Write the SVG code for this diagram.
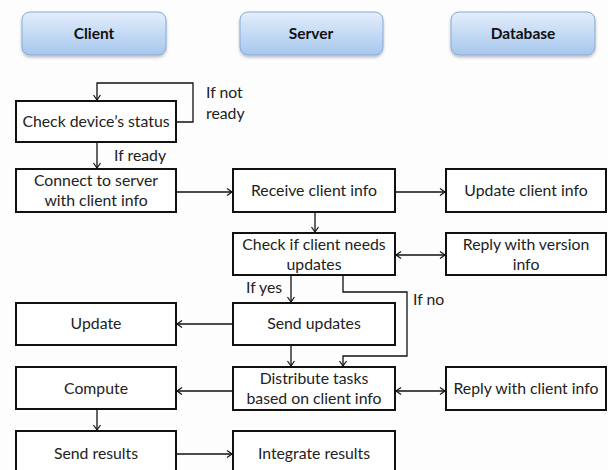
<svg xmlns="http://www.w3.org/2000/svg" width="608" height="470" viewBox="0 0 608 470">
<defs>
<linearGradient id="hg" x1="0" y1="0" x2="0" y2="1">
<stop offset="0" stop-color="#e3eefb"/>
<stop offset="1" stop-color="#a7c7ee"/>
</linearGradient>
<marker id="ah" markerWidth="8" markerHeight="8" refX="6" refY="4" orient="auto-start-reverse" markerUnits="userSpaceOnUse">
<path d="M1,0.5 L6,4 L1,7.5" fill="none" stroke="#111" stroke-width="1.2"/>
</marker>
<filter id="sh" x="-10%" y="-10%" width="130%" height="140%">
<feDropShadow dx="0" dy="2" stdDeviation="1.5" flood-color="#000" flood-opacity="0.25"/>
</filter>
</defs>
<style>
.hdr{fill:url(#hg);stroke:#86a9d6;stroke-width:1}
.ht{font-family:Lato,"Liberation Sans",sans-serif;font-weight:bold;font-size:15.5px;fill:#111;text-anchor:middle}
.box{fill:#fff;stroke:#111;stroke-width:2}
.t{font-family:Lato,"Liberation Sans",sans-serif;font-size:15.8px;fill:#222;text-anchor:middle}
.lbl{font-family:Lato,"Liberation Sans",sans-serif;font-size:15.8px;fill:#222}
.c{fill:none;stroke:#111;stroke-width:1.3}
</style>
<rect width="608" height="470" fill="#fdfdfd"/>

<g id="hdr-client"><rect class="hdr" x="22" y="12" width="144" height="43" rx="8" filter="url(#sh)"/><text class="ht" x="94" y="39">Client</text></g>
<g id="hdr-server"><rect class="hdr" x="240" y="12" width="143" height="43" rx="8" filter="url(#sh)"/><text class="ht" x="311" y="39">Server</text></g>
<g id="hdr-database"><rect class="hdr" x="451" y="12" width="144" height="43" rx="8" filter="url(#sh)"/><text class="ht" x="523" y="39">Database</text></g>

<g id="n-check-device"><rect class="box" x="16" y="101" width="160" height="41"/><text class="t" x="96" y="127">Check device’s status</text></g>
<g id="n-connect"><rect class="box" x="16" y="169" width="160" height="43"/><text class="t" x="96" y="186">Connect to server</text><text class="t" x="96" y="206">with client info</text></g>
<g id="n-receive"><rect class="box" x="233" y="169" width="162" height="43"/><text class="t" x="314" y="196">Receive client info</text></g>
<g id="n-update-client"><rect class="box" x="446" y="169" width="160" height="43"/><text class="t" x="526" y="196">Update client info</text></g>
<g id="n-check-updates"><rect class="box" x="233" y="233" width="162" height="42"/><text class="t" x="314" y="250">Check if client needs</text><text class="t" x="314" y="270">updates</text></g>
<g id="n-reply-version"><rect class="box" x="446" y="233" width="160" height="42"/><text class="t" x="526" y="250">Reply with version</text><text class="t" x="526" y="270">info</text></g>
<g id="n-update"><rect class="box" x="16" y="303" width="160" height="42"/><text class="t" x="96" y="329">Update</text></g>
<g id="n-send-updates"><rect class="box" x="233" y="303" width="162" height="42"/><text class="t" x="314" y="329">Send updates</text></g>
<g id="n-compute"><rect class="box" x="16" y="367" width="160" height="42"/><text class="t" x="96" y="394">Compute</text></g>
<g id="n-distribute"><rect class="box" x="233" y="367" width="162" height="43"/><text class="t" x="314" y="384">Distribute tasks</text><text class="t" x="314" y="404">based on client info</text></g>
<g id="n-reply-client"><rect class="box" x="446" y="367" width="160" height="43"/><text class="t" x="526" y="394">Reply with client info</text></g>
<g id="n-send-results"><rect class="box" x="16" y="431" width="160" height="50"/><text class="t" x="96" y="459">Send results</text></g>
<g id="n-integrate"><rect class="box" x="233" y="431" width="162" height="50"/><text class="t" x="314" y="459">Integrate results</text></g>

<g id="connectors">
<polyline class="c" points="176,122 193,122 193,83 97,83 97,100" marker-end="url(#ah)"/>
<line class="c" x1="97" y1="142" x2="97" y2="168" marker-end="url(#ah)"/>
<line class="c" x1="176" y1="192" x2="232" y2="192" marker-end="url(#ah)"/>
<line class="c" x1="395" y1="192" x2="445" y2="192" marker-end="url(#ah)"/>
<line class="c" x1="315" y1="212" x2="315" y2="232" marker-end="url(#ah)"/>
<line class="c" x1="396" y1="255" x2="445" y2="255" marker-start="url(#ah)" marker-end="url(#ah)"/>
<line class="c" x1="291" y1="275" x2="291" y2="302" marker-end="url(#ah)"/>
<polyline class="c" points="343,275 343,292 407,292 407,356 343,356 343,366" marker-end="url(#ah)"/>
<line class="c" x1="233" y1="324" x2="177" y2="324" marker-end="url(#ah)"/>
<line class="c" x1="291" y1="345" x2="291" y2="366" marker-end="url(#ah)"/>
<line class="c" x1="233" y1="391" x2="177" y2="391" marker-end="url(#ah)"/>
<line class="c" x1="396" y1="391" x2="445" y2="391" marker-start="url(#ah)" marker-end="url(#ah)"/>
<line class="c" x1="97" y1="409" x2="97" y2="430" marker-end="url(#ah)"/>
<line class="c" x1="176" y1="454" x2="232" y2="454" marker-end="url(#ah)"/>
<text class="lbl" x="206" y="98">If not</text>
<text class="lbl" x="206" y="119">ready</text>
<text class="lbl" x="114" y="161">If ready</text>
<text class="lbl" x="246" y="293">If yes</text>
<text class="lbl" x="413" y="305">If no</text>
</g>
</svg>
